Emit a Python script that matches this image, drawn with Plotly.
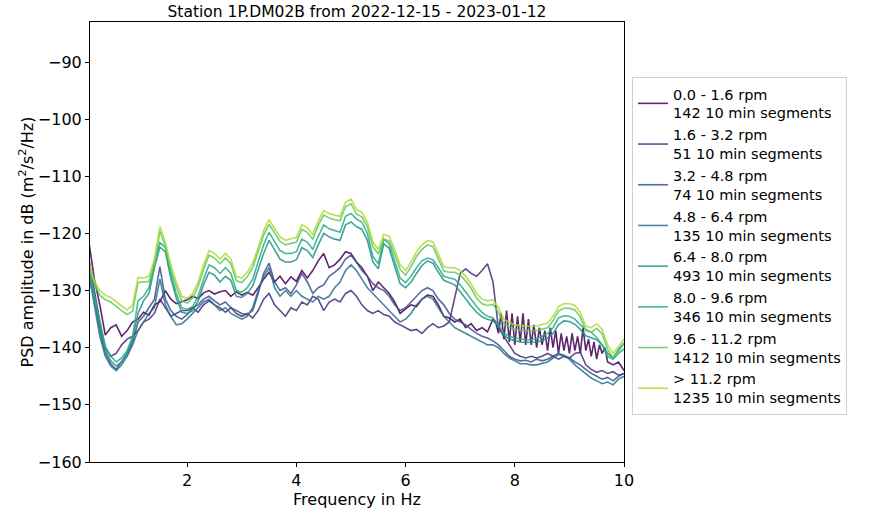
import numpy as np
import plotly.graph_objects as go

# Frequency grid (Hz)
FREQ = [round(0.2 + 0.1 * i, 2) for i in range(99)]  # 0.2 ... 10.0
FREQ_FINE = ([round(0.2 + 0.1 * i, 2) for i in range(75)]          # 0.2 ... 7.6
             + [round(7.65 + 0.05 * i, 2) for i in range(42)]      # 7.65 ... 9.70
             + [9.8, 9.9, 10.0])

LABELS = [
    "0.0 - 1.6 rpm<br>142 10 min segments",
    "1.6 - 3.2 rpm<br>51 10 min segments",
    "3.2 - 4.8 rpm<br>74 10 min segments",
    "4.8 - 6.4 rpm<br>135 10 min segments",
    "6.4 - 8.0 rpm<br>493 10 min segments",
    "8.0 - 9.6 rpm<br>346 10 min segments",
    "9.6 - 11.2 rpm<br>1412 10 min segments",
    "> 11.2 rpm<br>1235 10 min segments",
]

COLORS = ["#440154", "#472d7b", "#3b528b", "#2c728e",
          "#21918c", "#28ae80", "#5ec962", "#addc30"]

# 0.0 - 1.6 rpm (on FREQ_FINE)
PSD_0 = [
    -121.5, -128.0, -132.5, -137.8, -136.5, -136.0, -138.0, -137.0, -135.5, -135.0,
    -133.8, -134.3, -132.5, -132.0, -130.0, -131.5, -132.3, -132.0, -131.6, -131.0,
    -131.4, -130.4, -130.0, -130.6, -130.2, -130.0, -131.0, -130.2, -130.8, -130.3,
    -130.8, -129.5, -128.0, -126.8, -128.5, -127.5, -128.8, -127.6, -128.4, -126.5,
    -127.8, -126.5, -124.8, -123.5, -126.0, -125.5, -124.5, -123.2, -123.5, -125.0,
    -126.0, -127.5, -130.0, -128.5, -129.5, -130.5, -132.0, -134.0, -133.2, -132.5,
    -132.8, -131.5, -130.8, -131.0, -132.5, -134.5, -134.8, -135.5, -135.0, -136.5,
    -135.8, -137.0, -136.5, -137.2, -135.0,
    -135.5, -137.5, -134.0, -138.5, -133.5, -139.0, -134.0, -139.5, -134.5, -139.0,
    -134.0, -139.5, -135.0, -139.5, -136.0, -140.0, -136.5, -139.5, -137.0, -140.5,
    -136.5, -140.0, -137.0, -141.0, -137.5, -140.5, -138.0, -141.0, -137.5, -140.5,
    -138.0, -141.0, -136.5, -140.5, -138.5, -141.5, -139.0, -142.0, -139.5, -141.0,
    -140.0, -142.5,
    -143.0, -142.5, -144.0,
]

# 1.6 - 3.2 rpm
PSD_1 = [
    -124.5, -130.0, -135.5, -140.0, -141.5, -141.0, -139.5, -138.5, -138.0, -137.0,
    -135.5, -135.0, -134.0, -131.5, -133.0, -134.5, -134.0, -133.5, -133.5, -133.0,
    -133.8, -132.5, -131.8, -132.5, -133.0, -133.8, -133.0, -134.0, -134.5, -134.0,
    -134.8, -133.5, -131.5, -130.5, -132.5, -133.5, -134.5, -133.0, -133.5, -132.0,
    -132.5, -131.0, -131.5, -133.5, -132.0, -131.5, -132.0, -130.5, -130.0, -131.0,
    -132.5, -133.5, -134.0, -133.5, -134.2, -134.5, -135.5, -136.0, -136.5, -137.0,
    -136.8, -137.5, -136.5, -135.8, -136.5, -136.2, -135.5, -131.0, -127.0, -126.2,
    -127.0, -127.5, -126.5, -125.3, -128.5, -136.5, -138.0, -139.5, -141.0, -141.5,
    -141.8, -141.5, -141.8, -141.5, -141.0, -141.5, -142.0, -141.5, -141.8, -141.0,
    -140.8, -143.0, -143.8, -144.3, -144.0, -144.5, -144.2, -144.8, -144.5,
]

# 3.2 - 4.8 rpm
PSD_2 = [
    -126.0, -131.5, -137.0, -141.0, -142.8, -143.8, -142.5, -141.0, -139.0, -135.5,
    -134.5, -133.0, -131.5, -125.8, -131.5, -133.5, -134.5, -135.0, -134.2, -133.0,
    -132.5, -131.5, -131.0, -131.8, -132.5, -132.0, -133.0, -133.5, -134.0, -134.2,
    -133.5, -130.5, -127.0, -125.2, -128.5, -130.0, -129.5, -130.5, -129.0, -127.0,
    -128.5, -130.5, -129.5, -129.0, -127.5, -126.8, -126.0, -124.5, -123.8, -125.0,
    -126.5, -127.5, -128.8, -129.5, -130.0, -131.0, -132.5, -133.5, -133.0, -132.0,
    -131.0, -130.0, -129.5, -130.0, -131.5, -132.5, -134.0, -135.0, -135.5, -136.0,
    -136.8, -137.5, -138.0, -138.3, -138.8, -139.5, -140.5, -141.5, -142.0, -142.3,
    -142.2, -142.5, -142.0, -142.3, -142.0, -141.5, -141.0, -141.3, -141.8, -142.5,
    -143.0, -143.8, -144.5, -145.0, -145.5, -145.2, -145.8, -145.0, -144.5,
]

# 4.8 - 6.4 rpm
PSD_3 = [
    -127.0, -132.5, -138.0, -141.5, -143.2, -144.0, -143.0, -141.5, -139.5, -137.0,
    -135.5, -134.0, -133.0, -128.0, -132.5, -134.5, -136.0, -135.8, -135.0, -134.0,
    -133.0, -132.0, -131.5, -132.5, -133.5, -133.0, -134.0, -134.5, -135.0, -134.5,
    -133.0, -130.0, -127.5, -126.0, -129.5, -131.0, -130.0, -131.0, -130.0, -131.0,
    -131.5, -132.0, -131.0, -131.5, -131.0, -129.5, -128.5, -126.5, -125.5, -126.5,
    -128.0, -129.5, -130.5, -131.5, -132.5, -133.5, -134.5, -135.5, -135.0, -134.0,
    -132.5, -131.5, -131.0, -131.5, -133.0, -134.5, -135.5, -136.5, -137.0, -137.5,
    -138.0, -138.5, -139.0, -139.5, -139.5, -140.0, -141.0, -141.8, -142.3, -142.8,
    -142.8, -143.0, -143.0, -142.8, -142.5, -141.8, -141.2, -141.5, -142.0, -143.0,
    -143.8, -144.5, -145.3, -145.8, -146.3, -146.0, -146.5, -145.5, -145.0,
]

# 6.4 - 8.0 rpm
PSD_4 = [
    -127.5, -132.0, -136.5, -140.5, -142.3, -143.2, -142.5, -141.0, -138.5, -134.0,
    -131.8, -130.5, -126.0, -122.4, -123.2, -127.8, -131.3, -133.8, -134.0, -133.5,
    -131.8, -129.0, -126.8, -127.3, -128.5, -127.5, -128.2, -131.0, -131.2, -130.5,
    -129.2, -126.5, -123.5, -121.2, -122.8, -124.5, -125.0, -125.0, -124.6, -122.5,
    -123.0, -124.2, -122.0, -120.0, -120.6, -121.0, -121.2, -118.5, -118.0, -118.8,
    -119.3, -121.2, -125.0, -126.2, -121.8, -122.6, -125.8, -128.8, -129.5, -128.5,
    -127.0, -125.6, -124.8, -125.2, -126.8, -128.2, -128.6, -129.0, -130.2, -131.5,
    -132.7, -133.8, -134.6, -135.0, -135.3, -136.2, -137.8, -138.5, -138.8, -139.0,
    -139.1, -139.1, -139.0, -138.8, -138.3, -137.5, -136.0, -135.3, -135.4, -135.9,
    -136.8, -137.9, -138.2, -138.6, -139.5, -141.0, -141.8, -140.3, -139.2,
]

# 8.0 - 9.6 rpm
PSD_5 = [
    -126.5, -131.0, -135.5, -139.8, -141.5, -142.5, -141.8, -140.5, -138.0, -131.8,
    -131.0, -129.5, -125.0, -121.6, -122.5, -127.0, -130.5, -133.0, -133.3, -132.8,
    -131.0, -128.0, -125.5, -126.0, -127.0, -126.0, -127.0, -130.0, -130.3, -129.5,
    -128.0, -125.0, -122.0, -119.8, -121.5, -123.0, -123.5, -123.5, -123.2, -121.0,
    -121.5, -122.8, -120.5, -118.5, -119.2, -119.5, -119.8, -117.0, -116.5, -117.5,
    -118.0, -120.0, -124.0, -125.3, -121.0, -121.8, -124.8, -127.8, -128.6, -127.5,
    -126.0, -124.8, -124.3, -124.6, -126.0, -127.5, -127.8, -128.0, -129.0, -130.3,
    -131.5, -132.8, -133.8, -134.5, -134.8, -136.0, -137.5, -138.0, -138.3, -138.5,
    -138.6, -138.6, -138.4, -138.0, -137.5, -136.5, -134.8, -134.4, -134.5, -135.0,
    -136.0, -136.8, -137.3, -138.2, -139.5, -141.5, -142.0, -141.0, -140.2,
]

# 9.6 - 11.2 rpm
PSD_6 = [
    -125.8, -128.8, -130.8, -131.6, -132.0, -132.8, -133.5, -134.2, -133.6, -128.6,
    -128.5, -128.4, -125.3, -119.6, -122.3, -126.3, -129.3, -131.8, -132.2, -131.3,
    -129.3, -126.3, -123.8, -124.3, -125.3, -124.3, -125.3, -128.3, -128.6, -127.6,
    -126.0, -123.3, -120.3, -118.4, -119.8, -121.4, -122.0, -121.8, -121.5, -119.3,
    -119.8, -121.0, -118.6, -116.8, -117.3, -117.6, -117.8, -115.3, -114.8, -116.6,
    -117.1, -118.8, -122.3, -123.6, -121.0, -121.3, -123.6, -126.3, -127.3, -125.8,
    -124.0, -122.8, -122.0, -122.3, -124.3, -126.6, -126.8, -126.8, -127.3, -128.3,
    -129.6, -131.3, -132.3, -132.6, -132.4, -133.8, -135.8, -136.4, -136.8, -136.9,
    -137.1, -137.1, -137.0, -136.8, -136.5, -135.3, -133.6, -133.1, -133.1, -133.4,
    -134.6, -137.0, -137.3, -136.6, -137.6, -140.3, -141.8, -140.6, -139.3,
]

# > 11.2 rpm
PSD_7 = [
    -125.0, -128.3, -130.0, -130.8, -131.2, -132.0, -132.7, -133.4, -132.5, -127.7,
    -127.8, -127.5, -124.5, -118.8, -121.5, -125.5, -128.5, -131.0, -131.4, -130.5,
    -128.5, -125.5, -123.0, -123.5, -124.5, -123.5, -124.5, -127.5, -127.8, -126.8,
    -125.2, -122.5, -119.5, -117.6, -119.0, -120.6, -121.2, -121.0, -120.7, -118.5,
    -119.0, -120.2, -117.8, -116.0, -116.5, -116.8, -117.0, -114.5, -114.0, -115.8,
    -116.3, -118.0, -121.5, -122.8, -120.2, -120.5, -122.8, -125.5, -126.5, -125.0,
    -123.2, -122.0, -121.2, -121.5, -123.5, -125.8, -126.0, -126.0, -126.5, -127.5,
    -128.8, -130.5, -131.5, -131.8, -131.6, -133.0, -135.0, -135.6, -136.0, -136.1,
    -136.3, -136.3, -136.2, -136.0, -135.7, -134.5, -132.8, -132.3, -132.3, -132.6,
    -133.8, -136.2, -136.5, -135.8, -136.8, -139.5, -141.0, -139.8, -138.5,
]

SERIES = [(FREQ_FINE, PSD_0), (FREQ, PSD_1), (FREQ, PSD_2), (FREQ, PSD_3),
          (FREQ, PSD_4), (FREQ, PSD_5), (FREQ, PSD_6), (FREQ, PSD_7)]

FONT = "DejaVu Sans, Liberation Sans, sans-serif"

fig = go.Figure()
for (xs, ys), name, col in zip(SERIES, LABELS, COLORS):
    assert len(xs) == len(ys), (name, len(xs), len(ys))
    fig.add_trace(go.Scatter(
        x=xs, y=ys, mode="lines", name=name,
        line=dict(color=col, width=1.6), opacity=0.85,
    ))

fig.update_layout(
    width=871, height=515,
    margin=dict(l=90, r=247, t=22, b=44),
    paper_bgcolor="white", plot_bgcolor="white",
    font=dict(family=FONT, size=15, color="black"),
    title=dict(text="Station 1P.DM02B from 2022-12-15 - 2023-01-12",
               x=357 / 871, xanchor="center",
               y=1 - 12 / 515, yanchor="middle",
               font=dict(family=FONT, size=15.5)),
    legend=dict(x=1.015, y=0.875, xanchor="left", yanchor="top",
                bgcolor="white", bordercolor="#d0d0d0", borderwidth=1,
                font=dict(family=FONT, size=14.5), itemwidth=30,
                tracegroupgap=0),
    showlegend=True,
)
fig.update_xaxes(
    range=[0.22, 10.0], tickvals=[2, 4, 6, 8, 10],
    title=dict(text="Frequency in Hz", font=dict(family=FONT, size=16), standoff=2),
    showline=True, linecolor="black", linewidth=1, mirror=True,
    ticks="outside", ticklen=4, tickcolor="black", showgrid=False, zeroline=False,
    tickfont=dict(family=FONT, size=16),
)
fig.update_yaxes(
    range=[-160, -83], tickvals=[-90, -100, -110, -120, -130, -140, -150, -160],
    title=dict(text="PSD amplitude in dB (m<sup>2</sup>/s<sup>2</sup>/Hz)",
               font=dict(family=FONT, size=16), standoff=0),
    showline=True, linecolor="black", linewidth=1, mirror=True,
    ticks="outside", ticklen=4, tickcolor="black", showgrid=False, zeroline=False,
    tickfont=dict(family=FONT, size=16),
)

fig.write_html("out.html")
